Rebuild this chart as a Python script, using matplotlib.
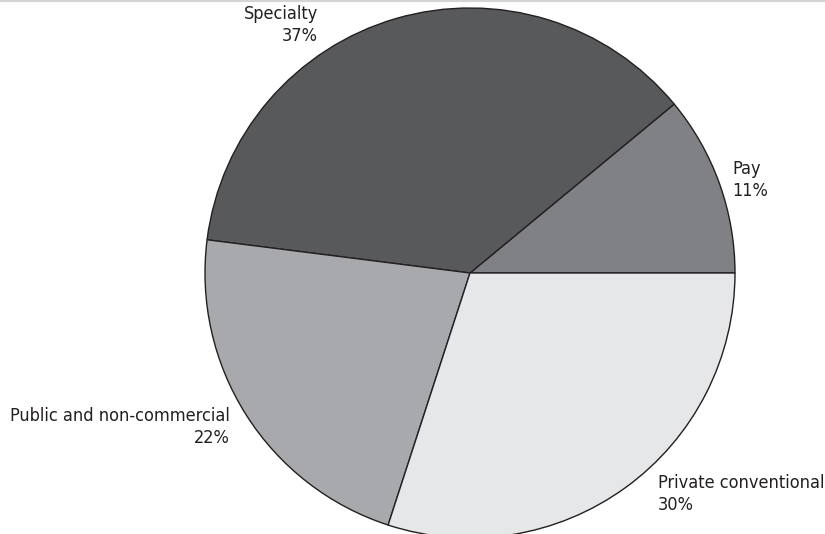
import matplotlib
matplotlib.use("Agg")
import matplotlib.pyplot as plt
from matplotlib import font_manager
from matplotlib.lines import Line2D

# data
categories = ["Pay", "Specialty", "Public and non-commercial", "Private conventional"]
shares = [11, 37, 22, 30]
colors = ["#808184", "#58595b", "#a7a9ac", "#e6e7e8"]

# condensed face if available
has_cond = any(f.name == "DejaVu Sans" and f.stretch == "condensed"
               for f in font_manager.fontManager.ttflist)
plt.rcParams["font.family"] = ["DejaVu Sans"]
stretch = "condensed" if has_cond else "normal"
fsize = 13 if has_cond else 12

W, H = 825, 534
fig = plt.figure(figsize=(W / 100, H / 100), dpi=100)
ax = fig.add_axes([0, 0, 1, 1])

def py(y):
    return H - y

cx, cy, r = 470, 273, 265
ax.pie(shares, colors=colors, startangle=0, counterclock=True,
       center=(cx, py(cy)), radius=r, frame=True,
       wedgeprops=dict(edgecolor="#231f20", linewidth=1.0))
ax.set_xlim(0, W)
ax.set_ylim(0, H)
ax.set_aspect("equal")
ax.axis("off")

# label placement: (x, y center, ha)
label_pos = [(732, 180, "left"), (318, 25, "right"), (230, 427, "right"), (658, 494, "left")]
for cat, s, (x, y, ha) in zip(categories, shares, label_pos):
    ax.text(x, py(y), f"{cat}\n{s}%", ha=ha, va="center", multialignment=ha,
            fontsize=fsize, fontstretch=stretch, color="#231f20", linespacing=1.3)

fig.add_artist(Line2D([0, 1], [1 - 1 / H, 1 - 1 / H], color="#d4d4d4", linewidth=1.5,
                      transform=fig.transFigure))

fig.savefig("out.png", dpi=100, facecolor="white")
